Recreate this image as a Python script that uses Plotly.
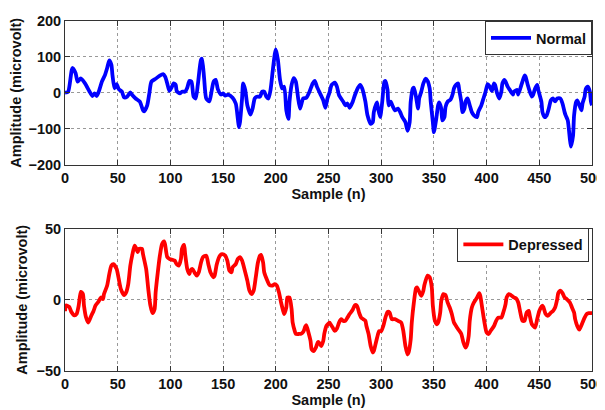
import plotly.graph_objects as go

# values (sample index, microvolt)
normal_x = [0, 3, 7, 10, 12, 15, 19, 23, 26, 28, 30, 32, 35, 38, 40, 42, 44, 45, 47, 49,
            51, 54, 56, 59, 62, 64, 67, 71, 74, 75, 78, 80, 82, 86, 90, 93, 95, 97, 99, 101,
            103, 105, 106, 109, 111, 114, 116, 118, 120, 122, 124, 126, 129, 130, 132, 134, 137, 139, 141, 143,
            145, 148, 150, 152, 155, 159, 162, 164, 165, 166, 168, 169, 171, 173, 176, 178, 180, 182, 185, 187,
            189, 191, 193, 195, 197, 199, 200, 202, 204, 206, 208, 210, 212, 213, 215, 217, 219, 221, 223, 226,
            229, 232, 235, 237, 239, 242, 245, 247, 249, 251, 253, 256, 258, 260, 264, 266, 268, 270, 273, 275,
            278, 280, 282, 285, 287, 290, 292, 293, 296, 297, 299, 301, 303, 304, 306, 307, 309, 311, 313, 316,
            318, 320, 323, 325, 327, 328, 330, 331, 333, 335, 336, 338, 340, 342, 344, 346, 347, 349, 350, 352,
            354, 355, 357, 358, 360, 361, 363, 365, 366, 368, 369, 371, 373, 374, 376, 377, 379, 380, 382, 384,
            386, 388, 391, 392, 395, 397, 399, 401, 403, 405, 407, 408, 410, 412, 414, 415, 417, 418, 420, 422,
            425, 426, 429, 430, 433, 434, 436, 437, 439, 441, 443, 444, 446, 448, 449, 452, 453, 455, 457, 459,
            461, 463, 465, 467, 470, 472, 474, 475, 477, 479, 480, 482, 483, 485, 486, 488, 490, 491, 493, 494,
            496, 498, 499, 500]
normal_y = [0, 3, 69, 55, 31, 40, 26, 5, -9, -2, -9, 3, 31, 50, 69, 90, 78, 50, 12, 24,
            10, 3, -13, -11, 1, -7, -16, -25, -49, -52, -35, -2, 31, 39, 48, 52, 45, 26, 5, 14,
            26, 22, 5, -2, 3, 3, 14, 33, 31, -11, -16, 22, 92, 95, 40, -16, -24, 3, 31, 36,
            10, -5, -2, -8, -5, -14, -30, -73, -96, -82, -16, 26, 8, -35, -61, -44, -16, -11, -11, 3,
            3, -11, -16, 8, 59, 107, 121, 92, 36, 12, 17, -49, -73, -25, 22, 41, 31, -11, -44, -16,
            -14, 3, 26, 33, 17, -2, -21, -42, -16, 1, 22, 28, 17, -7, -25, -35, -30, -42, -25, -7,
            14, 22, 12, -25, -63, -87, -82, -54, -27, -44, -68, -25, 31, 33, 8, -35, -25, -38, -49, -44,
            -54, -68, -82, -106, -82, -25, 12, 14, -11, -44, -16, 3, 26, 39, 33, 12, -25, -82, -110, -77,
            -35, -27, -44, -77, -68, -40, -25, -21, -18, -2, 12, 22, 26, 8, -25, -54, -44, -25, -16, -35,
            -54, -63, -68, -54, -35, -16, 3, 24, 17, 5, 26, 22, -2, -16, 3, 26, 36, 31, 17, 8,
            -5, 3, 8, -5, 22, 31, 48, 45, 22, 3, -11, -7, 12, 22, 8, -25, -54, -68, -63, -44,
            -21, -16, -24, -16, -16, -30, -54, -63, -77, -129, -150, -120, -63, -25, -21, -35, -49, -30, -11, 10,
            17, 3, -25, -35]

depressed_x = [0, 1, 4, 6, 9, 11, 13, 15, 17, 18, 20, 22, 25, 27, 29, 32, 34, 36, 37, 40,
               42, 44, 46, 49, 51, 53, 56, 58, 60, 62, 64, 66, 67, 69, 70, 73, 74, 77, 79, 81,
               83, 85, 86, 88, 90, 92, 94, 95, 97, 99, 102, 104, 106, 108, 110, 111, 113, 114, 116, 118,
               119, 121, 123, 125, 127, 129, 131, 134, 136, 138, 141, 142, 144, 147, 149, 152, 154, 156, 158, 159,
               162, 164, 166, 168, 171, 173, 175, 177, 179, 181, 183, 185, 186, 188, 189, 192, 194, 197, 199, 201,
               203, 205, 207, 208, 210, 211, 213, 215, 216, 218, 219, 222, 224, 226, 228, 229, 231, 233, 234, 236,
               238, 240, 241, 243, 245, 246, 248, 251, 252, 254, 256, 258, 260, 262, 264, 266, 268, 270, 273, 275,
               277, 279, 281, 283, 285, 286, 288, 290, 292, 293, 295, 297, 298, 300, 302, 304, 306, 308, 310, 313,
               316, 319, 321, 323, 325, 326, 328, 329, 331, 333, 334, 337, 338, 340, 341, 344, 346, 348, 349, 351,
               353, 354, 356, 357, 359, 361, 363, 365, 367, 369, 371, 373, 376, 378, 380, 381, 383, 384, 386, 388,
               391, 393, 394, 396, 398, 400, 402, 404, 407, 409, 411, 414, 416, 418, 419, 421, 423, 426, 428, 430,
               432, 434, 436, 438, 440, 441, 443, 446, 448, 450, 453, 454, 456, 458, 461, 463, 465, 467, 468, 470,
               472, 474, 476, 479, 481, 483, 484, 486, 488, 489, 491, 493, 495, 497, 500]
depressed_y = [-8, -4, -5, -8.5, -11, -10, -4, 5.6, 4, -4, -12.5, -16, -11, -8, -4, -1, 1.6, 0.5, 4, 10,
               18, 24, 25, 21.6, 14.6, 7.5, 3.3, 5.2, 11, 24, 32, 38, 37, 33.4, 35.8, 35.8, 32, 21.6, 7.5, -4,
               -9.4, -6.6, 5.2, 19, 31, 39, 41, 38.6, 30, 28.7, 28, 27.5, 25, 24, 28.7, 35.8, 38.6, 32, 21.6, 18,
               20.5, 21.6, 19, 17, 19.5, 26, 30, 31, 25, 19.3, 15.8, 17, 25, 31, 32, 31, 27.5, 20.5, 19.3, 22.8,
               25, 28.7, 30, 27.5, 19.3, 13.4, 6.4, 4, 6.4, 15.8, 26, 31, 31.5, 26, 19.3, 13.4, 10.4, 10, 11, 10,
               5.2, -1.9, -7.8, -10, -5.4, 1.6, 1.6, -6.6, -16, -22, -24, -24, -23.8, -22.6, -18.8, -17.9, -23, -29, -34.8, -36,
               -33.6, -29.6, -30, -32.5, -29, -24, -18.4, -16, -17.2, -19.5, -21.9, -20.2, -16, -13.6, -14.8, -14.8, -12.5, -10, -7, -3.8,
               -4.2, -9, -12.5, -13.6, -14.8, -18.4, -24, -32.5, -37, -36, -30, -24, -22, -22, -18.4, -12.5, -8.5, -9, -13.6, -13.6,
               -14.8, -16, -22, -32.5, -38.4, -37, -27.8, -16, -1.9, 8, 8.7, 4, 2.8, 6.4, 10.4, 17, 15.8, 8.7, -4.2, -14.8,
               -17.2, -16, -8.9, -0.7, 4, 3.3, -1.9, -5.4, -10, -16, -18.4, -20.7, -24, -30, -33.6, -32.5, -25.4, -14.8, -5.4, -1.9,
               1.6, 4.7, 2.8, -6.6, -16, -23, -24, -21.6, -18.4, -14.8, -12.5, -12.5, -8.5, -3, 1.6, 4, 3.3, 1.6, 0.9, -1.9,
               -9, -14.8, -14.8, -9, -7.8, -11.3, -17.2, -19.5, -13.6, -7.8, -4.2, -5.4, -10, -11.3, -9, -7.8, -5.4, 0.5, 4.7, 6.4,
               4.7, 1.6, 0.5, -1.9, -5.4, -9, -13.6, -18.4, -21, -19.5, -16, -12.5, -10, -9.4, -9.4]

x_ticks = [0, 50, 100, 150, 200, 250, 300, 350, 400, 450, 500]
top_ticks = [-200, -100, 0, 100, 200]
bottom_ticks = [-50, 0, 50]

FONT = "Liberation Sans, Arial, sans-serif"
txt = dict(size=14.5, weight="bold", color="#111")

fig = go.Figure()
fig.add_trace(go.Scatter(x=normal_x, y=normal_y, mode="lines", name="Normal",
                         line=dict(color="#0000FF", width=3.8, shape="spline", smoothing=0.6),
                         xaxis="x", yaxis="y", legend="legend"))
fig.add_trace(go.Scatter(x=depressed_x, y=depressed_y, mode="lines", name="Depressed",
                         line=dict(color="#FF0000", width=3.8, shape="spline", smoothing=0.6),
                         xaxis="x2", yaxis="y2", legend="legend2"))

def xax(anchor):
    return dict(range=[0, 500], tickvals=x_ticks, domain=[0, 1], anchor=anchor,
                showline=True, mirror="ticks", linecolor="#333", linewidth=1,
                ticks="inside", ticklen=5, tickcolor="#333",
                showgrid=True, gridcolor="#999", griddash="dot", gridwidth=1,
                zeroline=False, tickfont=txt, automargin=False,
                title=dict(text="Sample (n)", font=txt, standoff=0))

def yax(rng, ticks, domain, anchor):
    return dict(range=rng, tickvals=ticks, domain=domain, anchor=anchor,
                showline=True, mirror="ticks", linecolor="#333", linewidth=1,
                ticks="inside", ticklen=5, tickcolor="#333",
                showgrid=True, gridcolor="#999", griddash="dot", gridwidth=1,
                zeroline=False, tickfont=txt, automargin=False,
                title=dict(text="Amplitude (microvolt)", font=txt, standoff=5))

# the page puts the figure 8px in from the top-left, so it is drawn 8px smaller
fig.update_layout(
    width=597, height=402,
    margin=dict(l=57, r=13, t=13, b=39),
    paper_bgcolor="white", plot_bgcolor="white",
    font=dict(family=FONT, size=14.5, color="#111"),
    xaxis=xax("y"), yaxis=yax([-200, 200], top_ticks, [0.59, 1.0], "x"),
    xaxis2=xax("y2"), yaxis2=yax([-50, 50], bottom_ticks, [0.0, 0.407], "x2"),
    legend=dict(x=1.0, y=1.0, xanchor="right", yanchor="top", bgcolor="white",
                bordercolor="#333", borderwidth=1, font=txt, itemwidth=40),
    legend2=dict(x=0.995, y=0.41, xanchor="right", yanchor="top", bgcolor="white",
                 bordercolor="#333", borderwidth=1, font=txt, itemwidth=40),
    showlegend=True,
)

fig.write_html("out.html")
